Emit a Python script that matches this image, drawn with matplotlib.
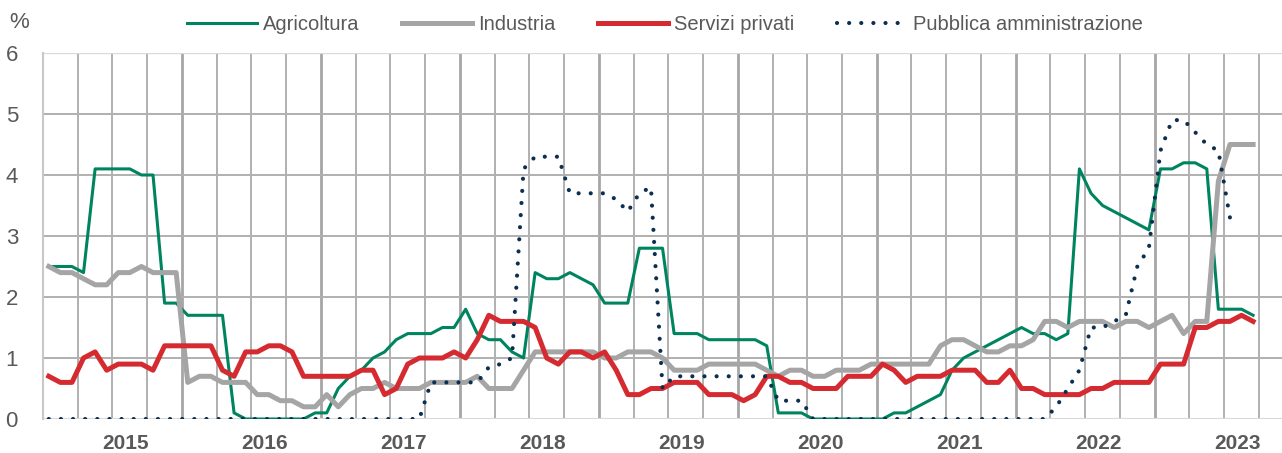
import numpy as np
import pandas as pd
import matplotlib
matplotlib.use("Agg")
import matplotlib.pyplot as plt
from matplotlib.lines import Line2D
from matplotlib import font_manager as fm

try:
    fm.findfont(fm.FontProperties(family='Liberation Sans Narrow'), fallback_to_default=False)
    FAMILY = ['Liberation Sans Narrow', 'DejaVu Sans']
    FS, FS_Y, FS_X = 17, 17, 17
except Exception:
    FAMILY = ['Liberation Sans', 'DejaVu Sans']
    FS, FS_Y, FS_X = 14.5, 16, 15
plt.rcParams['font.family'] = FAMILY

# ---- data (monthly, Dec 2014 - Aug 2023) ----
months = pd.date_range('2014-12-01', periods=105, freq='MS')

agricoltura = ([2.5, 2.5, 2.5, 2.4, 4.1, 4.1, 4.1, 4.1, 4.0, 4.0, 1.9, 1.9,
                1.7, 1.7, 1.7, 1.7, 0.1, 0.0, 0.0, 0.0, 0.0, 0.0, 0.0, 0.1,
                0.1, 0.5, 0.7, 0.8, 1.0, 1.1, 1.3, 1.4, 1.4, 1.4, 1.5, 1.5,
                1.8, 1.4, 1.3, 1.3, 1.1, 1.0, 2.4, 2.3, 2.3, 2.4, 2.3, 2.2,
                1.9, 1.9, 1.9, 2.8, 2.8, 2.8, 1.4, 1.4, 1.4, 1.3, 1.3, 1.3,
                1.3, 1.3, 1.2, 0.1, 0.1, 0.1, 0.0, 0.0, 0.0, 0.0, 0.0, 0.0,
                0.0, 0.1, 0.1, 0.2, 0.3, 0.4, 0.8, 1.0, 1.1, 1.2, 1.3, 1.4,
                1.5, 1.4, 1.4, 1.3, 1.4, 4.1, 3.7, 3.5, 3.4, 3.3, 3.2, 3.1,
                4.1, 4.1, 4.2, 4.2, 4.1, 1.8, 1.8, 1.8, 1.7])

industria = ([2.5, 2.4, 2.4, 2.3, 2.2, 2.2, 2.4, 2.4, 2.5, 2.4, 2.4, 2.4,
              0.6, 0.7, 0.7, 0.6, 0.6, 0.6, 0.4, 0.4, 0.3, 0.3, 0.2, 0.2,
              0.4, 0.2, 0.4, 0.5, 0.5, 0.6, 0.5, 0.5, 0.5, 0.6, 0.6, 0.6,
              0.6, 0.7, 0.5, 0.5, 0.5, 0.8, 1.1, 1.1, 1.1, 1.1, 1.1, 1.1,
              1.0, 1.0, 1.1, 1.1, 1.1, 1.0, 0.8, 0.8, 0.8, 0.9, 0.9, 0.9,
              0.9, 0.9, 0.8, 0.7, 0.8, 0.8, 0.7, 0.7, 0.8, 0.8, 0.8, 0.9,
              0.9, 0.9, 0.9, 0.9, 0.9, 1.2, 1.3, 1.3, 1.2, 1.1, 1.1, 1.2,
              1.2, 1.3, 1.6, 1.6, 1.5, 1.6, 1.6, 1.6, 1.5, 1.6, 1.6, 1.5,
              1.6, 1.7, 1.4, 1.6, 1.6, 3.9, 4.5, 4.5, 4.5])

servizi_privati = ([0.7, 0.6, 0.6, 1.0, 1.1, 0.8, 0.9, 0.9, 0.9, 0.8, 1.2, 1.2,
                    1.2, 1.2, 1.2, 0.8, 0.7, 1.1, 1.1, 1.2, 1.2, 1.1, 0.7, 0.7,
                    0.7, 0.7, 0.7, 0.8, 0.8, 0.4, 0.5, 0.9, 1.0, 1.0, 1.0, 1.1,
                    1.0, 1.3, 1.7, 1.6, 1.6, 1.6, 1.5, 1.0, 0.9, 1.1, 1.1, 1.0,
                    1.1, 0.8, 0.4, 0.4, 0.5, 0.5, 0.6, 0.6, 0.6, 0.4, 0.4, 0.4,
                    0.3, 0.4, 0.7, 0.7, 0.6, 0.6, 0.5, 0.5, 0.5, 0.7, 0.7, 0.7,
                    0.9, 0.8, 0.6, 0.7, 0.7, 0.7, 0.8, 0.8, 0.8, 0.6, 0.6, 0.8,
                    0.5, 0.5, 0.4, 0.4, 0.4, 0.4, 0.5, 0.5, 0.6, 0.6, 0.6, 0.6,
                    0.9, 0.9, 0.9, 1.5, 1.5, 1.6, 1.6, 1.7, 1.6])

pubblica_amm = ([0.0] * 33 +
                [0.6, 0.6, 0.6, 0.6, 0.6, 0.85, 0.9, 1.0, 4.1, 4.3, 4.3, 4.3,
                 3.7, 3.7, 3.7, 3.7, 3.6, 3.4, 3.7, 3.8, 0.5, 0.7, 0.7, 0.7,
                 0.7, 0.7, 0.7, 0.7, 0.7, 0.7, 0.3, 0.3, 0.3] +
                [0.0] * 21 +
                [0.2, 0.5, 0.8, 1.5, 1.5, 1.6, 1.7, 2.5, 2.8, 4.4, 4.9, 4.9,
                 4.7, 4.5, 4.4, 3.3, 3.3, np.nan])

series_names = ['Agricoltura', 'Industria', 'Servizi privati', 'Pubblica amministrazione']
y_ticks = [0, 1, 2, 3, 4, 5, 6]
year_labels = [2015, 2016, 2017, 2018, 2019, 2020, 2021, 2022, 2023]

# ---- figure ----
W, H = 1282, 453
fig = plt.figure(figsize=(W / 100, H / 100), dpi=100)
ax = fig.add_axes([43 / W, 1 - 419 / H, (W - 43) / W, (419 - 53) / H])

x = np.arange(len(months))
GREEN = '#00845F'
GREY = '#A5A5A5'
RED = '#D52B30'
NAVY = '#0C2F4F'
TXT = '#595959'

LW_G, LW_T, LW_D = 2.2, 3.6, 3.0
DOTS = (0, (0.01, 2.9))

# grid
for k in range(1, 36):
    xv = -0.5 + 3 * k
    lw = 2.0 if k % 4 == 0 else 1.4
    col = '#A6A6A6' if k % 4 == 0 else '#B0B0B0'
    ax.axvline(xv, color=col, lw=lw, zorder=1)
for yv in range(1, 6):
    ax.axhline(yv, color='#B0B0B0', lw=1.4, zorder=1)
ax.axhline(6, color='#D9D9D9', lw=1.6, zorder=1)
ax.axhline(0, color='#D9D9D9', lw=2.2, zorder=1)

ax.plot(x, agricoltura, color=GREEN, lw=LW_G, zorder=3, solid_joinstyle='round')
ax.plot(x, industria, color=GREY, lw=LW_T, zorder=3, solid_joinstyle='round')
ax.plot(x, servizi_privati, color=RED, lw=LW_T, zorder=4, solid_joinstyle='round')
ax.plot(x, pubblica_amm, color=NAVY, lw=LW_D, linestyle=DOTS,
        dash_capstyle='round', zorder=5)

ax.set_yticks(y_ticks)
ax.set_yticklabels([str(v) for v in y_ticks], fontsize=FS_Y)

year_pos = []
for yr in year_labels:
    jan = pd.Timestamp(year=yr, month=1, day=1)
    idx = (jan.year - months[0].year) * 12 + (jan.month - months[0].month)
    year_pos.append(idx + 5.65)
ax.set_xticks(year_pos)
ax.set_xticklabels([str(yr) for yr in year_labels], fontweight='bold', fontsize=FS_X)
ax.set_xlim(-0.5, -0.5 + (W - 43) / 11.58)
ax.set_ylim(0, 6)

ax.tick_params(axis='both', length=0, colors=TXT)
ax.tick_params(axis='x', pad=11)
ax.tick_params(axis='y', pad=18)
for s in ['top', 'right', 'bottom']:
    ax.spines[s].set_visible(False)
ax.spines['left'].set_color('#C8C8C8')
ax.spines['left'].set_linewidth(1.5)

fig.text(19 / W, 1 - 22 / H, '%', ha='center', va='center', fontsize=FS_Y, color=TXT)

handles = [Line2D([], [], color=GREEN, lw=LW_G),
           Line2D([], [], color=GREY, lw=LW_T),
           Line2D([], [], color=RED, lw=LW_T),
           Line2D([], [], color=NAVY, lw=LW_D, linestyle=DOTS,
                  dash_capstyle='round')]
leg = fig.legend(handles, series_names, loc='center', ncol=4,
                 bbox_to_anchor=(665 / W, 1 - 25 / H), frameon=False,
                 fontsize=FS, handlelength=50 / FS, handletextpad=0.3,
                 columnspacing=31 / FS, labelcolor=TXT)

fig.savefig('out.png', dpi=100)
